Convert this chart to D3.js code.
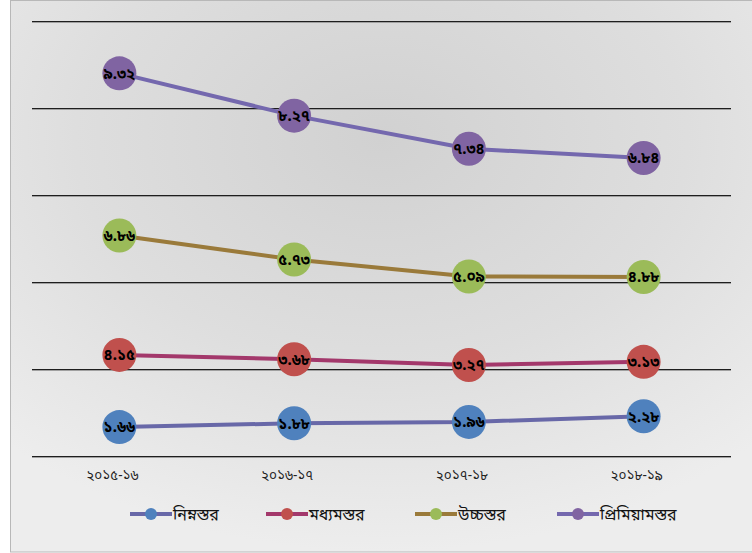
<!DOCTYPE html>
<html>
<head>
<meta charset="utf-8">
<script src="https://cdn.jsdelivr.net/npm/d3@7"></script>
<style>
  body { margin: 0; background: #fff; }
  svg { display: block; }
  text { font-family: "Noto Sans Bengali", "Lohit Bengali", "Noto Sans", "DejaVu Sans", sans-serif; }
</style>
</head>
<body>
<svg id="chart" width="752" height="553"></svg>
<script>
const years = ["২০১৫-১৬", "২০১৬-১৭", "২০১৭-১৮", "২০১৮-১৯"];
const seriesNames = ["নিম্নস্তর", "মধ্যমস্তর", "উচ্চস্তর", "প্রিমিয়ামস্তর"];
const lower = [1.66, 1.88, 1.96, 2.28];
const middle = [4.15, 3.68, 3.27, 3.13];
const upper = [6.86, 5.73, 5.09, 4.88];
const premium = [9.32, 8.27, 7.34, 6.84];
const yTicks = [0, 5, 10, 15, 20, 25];

const lineColors = ["#6868a8", "#a3386b", "#9a7a3a", "#7468ae"];
const markerColors = ["#4f81bd", "#c0504d", "#9bbb59", "#8064a2"];

const bnDigits = "০১২৩৪৫৬৭৮৯";
function toBn(v) {
    return v.toFixed(2).replace(/[0-9]/g, d => bnDigits[+d]);
}

const svg = d3.select("#chart");
const W = 752, H = 553;

// Background gradient
const defs = svg.append("defs");
const grad = defs.append("radialGradient")
    .attr("id", "bg")
    .attr("cx", "50%").attr("cy", "25%").attr("r", "75%")
    .attr("gradientUnits", "objectBoundingBox");
grad.append("stop").attr("offset", "0%").attr("stop-color", "#d1d1d1");
grad.append("stop").attr("offset", "55%").attr("stop-color", "#dedede");
grad.append("stop").attr("offset", "100%").attr("stop-color", "#ededed");

svg.append("rect")
    .attr("x", 10.5).attr("y", 0.5)
    .attr("width", W - 10).attr("height", 551.5)
    .attr("fill", "url(#bg)")
    .attr("stroke", "#b8b8b8");

// Scales
const plot = { left: 32, right: 731, top: 21, bottom: 456 };
const x = d3.scaleBand().domain(years).range([plot.left, plot.right]);
const y = d3.scaleLinear().domain([0, 25]).range([plot.bottom, plot.top]);

// Gridlines (dark line with a soft shadow under it)
const grid = svg.append("g");
grid.selectAll("line.shadow")
    .data(yTicks)
    .enter().append("line")
    .attr("x1", plot.left).attr("x2", plot.right)
    .attr("y1", d => Math.round(y(d)) + 1.5).attr("y2", d => Math.round(y(d)) + 1.5)
    .attr("stroke", "#a0a0a0").attr("stroke-width", 1);
grid.selectAll("line.main")
    .data(yTicks)
    .enter().append("line")
    .attr("x1", plot.left).attr("x2", plot.right)
    .attr("y1", d => Math.round(y(d)) + 0.5).attr("y2", d => Math.round(y(d)) + 0.5)
    .attr("stroke", "#1e1e1e").attr("stroke-width", 1);

// X axis labels
const xAxis = d3.axisBottom(x).tickSize(0).tickPadding(14);
const gx = svg.append("g")
    .attr("transform", `translate(-7,${plot.bottom})`)
    .call(xAxis);
gx.select(".domain").remove();
gx.selectAll("text")
    .attr("font-size", 13.5)
    .attr("fill", "#222");

// Stack the series (stacked line chart)
const rows = years.map((yr, i) => ({
    year: yr, s0: lower[i], s1: middle[i], s2: upper[i], s3: premium[i]
}));
const stacked = d3.stack().keys(["s0", "s1", "s2", "s3"])(rows);

const line = d3.line()
    .x((d, i) => x(years[i]) + x.bandwidth() / 2)
    .y(d => y(d[1]));

const raw = [lower, middle, upper, premium];

stacked.forEach((layer, si) => {
    svg.append("path")
        .datum(layer)
        .attr("fill", "none")
        .attr("stroke", lineColors[si])
        .attr("stroke-width", 4)
        .attr("d", line);
});

stacked.forEach((layer, si) => {
    const g = svg.append("g");
    g.selectAll("circle")
        .data(layer)
        .enter().append("circle")
        .attr("cx", (d, i) => x(years[i]) + x.bandwidth() / 2)
        .attr("cy", d => y(d[1]))
        .attr("r", 17)
        .attr("fill", markerColors[si]);
    g.selectAll("text")
        .data(layer)
        .enter().append("text")
        .attr("x", (d, i) => x(years[i]) + x.bandwidth() / 2)
        .attr("y", d => y(d[1]))
        .attr("dy", "0.35em")
        .attr("text-anchor", "middle")
        .attr("font-size", 15)
        .attr("font-weight", "bold")
        .attr("fill", "#000")
        .text((d, i) => toBn(raw[si][i]));
});

// Legend
const legendX = [130, 266, 415, 557];
const legend = svg.append("g").attr("transform", "translate(0,514)");
seriesNames.forEach((name, i) => {
    const g = legend.append("g").attr("transform", `translate(${legendX[i]},0)`);
    g.append("line")
        .attr("x1", 0).attr("x2", 42)
        .attr("stroke", lineColors[i]).attr("stroke-width", 4);
    g.append("circle")
        .attr("cx", 21).attr("r", 6)
        .attr("fill", markerColors[i]);
    g.append("text")
        .attr("x", 43).attr("dy", "0.35em")
        .attr("font-size", 16)
        .attr("fill", "#111")
        .text(name);
});
</script>
</body>
</html>
